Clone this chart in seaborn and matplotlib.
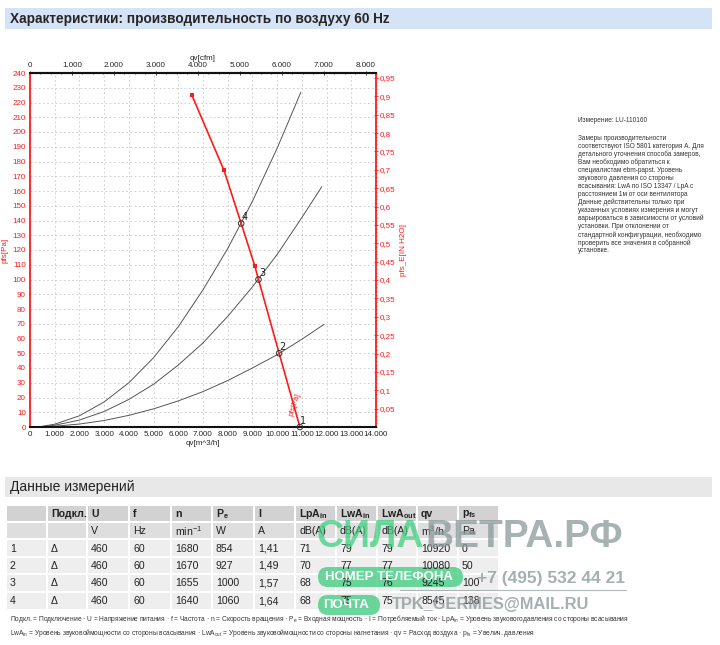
import matplotlib
matplotlib.use('Agg')
import matplotlib.pyplot as plt
from matplotlib.patches import Rectangle, FancyBboxPatch
from matplotlib.ticker import MultipleLocator, FixedLocator, FuncFormatter
import numpy as np
import pandas as pd
import seaborn as sns

sns.set_style('white')
SANS = ['Liberation Sans', 'DejaVu Sans']
plt.rcParams['font.family'] = SANS
plt.rcParams['mathtext.default'] = 'regular'

# fan curve (pfs over qv), m3/h and Pa
fan_qv = [6550, 7850, 8545, 9100, 9245, 10080, 10920]
fan_pfs = [225, 174, 138, 109, 100, 50, 0]
fan_dot_qv = [6550, 7850, 9100]
fan_dot_pfs = [225, 174, 109]

# operating points
op_qv = [10920, 10080, 9245, 8545]
op_pfs = [0, 50, 100, 138]
op_labels = ['1', '2', '3', '4']

# system curves through operating points 4, 3, 2
sys4_qv = [500, 1000, 2000, 3000, 4000, 5000, 6000, 7000, 8000, 9000, 10000, 10960]
sys4_p = [0.5, 1.9, 7.6, 17, 30, 47, 68, 93, 121, 153, 189, 227]
sys3_qv = [500, 1000, 2000, 3000, 4000, 5000, 6000, 7000, 8000, 9000, 10000, 11000, 11810]
sys3_p = [0.3, 1.2, 4.7, 10.5, 18.7, 29, 42, 57, 75, 95, 117, 142, 163]
sys2_qv = [500, 1000, 2000, 3000, 4000, 5000, 6000, 7000, 8000, 9000, 10000, 11000, 11900]
sys2_p = [0.1, 0.5, 2.0, 4.4, 7.9, 12.3, 17.7, 24, 31.5, 40, 49, 59.5, 69.6]

# table
tbl_head = ['', 'Подкл.', 'U', 'f', 'n', 'P$_e$', 'I', 'LpA$_{in}$', 'LwA$_{in}$', 'LwA$_{out}$', 'qv', 'p$_{fs}$']
tbl_units = ['', '', 'V', 'Hz', 'min$^{-1}$', 'W', 'A', 'dB(A)', 'dB(A)', 'dB(A)', 'm$^3$/h', 'Pa']
tbl_rows = [
    ['1', 'Δ', '460', '60', '1680', '854', '1,41', '71', '79', '79', '10920', '0'],
    ['2', 'Δ', '460', '60', '1670', '927', '1,49', '70', '77', '77', '10080', '50'],
    ['3', 'Δ', '460', '60', '1655', '1000', '1,57', '68', '75', '76', '9245', '100'],
    ['4', 'Δ', '460', '60', '1640', '1060', '1,64', '68', '75', '75', '8545', '138'],
]

note_lines = [
    'Замеры производительности',
    'соответствуют ISO 5801 категория А. Для',
    'детального уточнения способа замеров,',
    'Вам необходимо обратиться к',
    'специалистам ebm-papst. Уровень',
    'звукового давления со стороны',
    'всасывания: LwA по ISO 13347 / LpA с',
    'расстоянием 1м от оси вентилятора',
    'Данные действительны только при',
    'указанных условиях измерения и могут',
    'варьироваться в зависимости от условий',
    'установки. При отклонении от',
    'стандартной конфигурации, необходимо',
    'проверить все значения в собранной',
    'установке.',
]

foot1 = ('Подкл. = Подключение · U = Напряжение питания · f = Частота · n = Скорость вращения · '
         'P$_e$ = Входная мощность · I = Потребляемый ток · LpA$_{in}$ = Уровень звуковогодавления со стороны всасывания')
foot2 = ('LwA$_{in}$ = Уровень звуковоймощности со стороны всасывания · LwA$_{out}$ = Уровень звуковоймощности '
         'со стороны нагнетания · qv = Расход воздуха · p$_{fs}$ = Увелич. давления')

W, H = 720, 645
fig = plt.figure(figsize=(W / 100, H / 100), dpi=100)

# page overlay in pixel coords
ov = fig.add_axes([0, 0, 1, 1], zorder=0)
ov.set_xlim(0, W)
ov.set_ylim(H, 0)
ov.axis('off')

ov.add_patch(Rectangle((5, 8), 707, 21, color='#d5e3f6', lw=0))
ov.text(10, 18.5, 'Характеристики: производительность по воздуху 60 Hz',
        fontsize=9.8, fontweight='bold', va='center', ha='left')

ov.add_patch(Rectangle((5, 477), 707, 20, color='#e8e8e8', lw=0))
ov.text(10, 487.5, 'Данные измерений', fontsize=10, va='center', ha='left', color='#222222')

ov.text(578, 120, 'Измерение: LU-110160', fontsize=4.7, va='center', color='#333333')
for i, line in enumerate(note_lines):
    ov.text(578, 138 + i * 8.07, line, fontsize=4.7, va='center', color='#333333')

col_edges = [6, 47, 87, 129, 171, 212, 254, 295, 336, 377, 417, 458, 499]
row_edges = [505, 522, 539, 557, 574, 592, 610]
row_colors = ['#d2d2d2', '#dedede', '#eeeeee', '#eeeeee', '#eeeeee', '#eeeeee']
all_rows = [tbl_head, tbl_units] + tbl_rows
for r, cells in enumerate(all_rows):
    y0, y1 = row_edges[r], row_edges[r + 1]
    for c, txt in enumerate(cells):
        x0, x1 = col_edges[c], col_edges[c + 1]
        ov.add_patch(Rectangle((x0 + 0.75, y0 + 0.75), x1 - x0 - 1.5, y1 - y0 - 1.5,
                               color=row_colors[r], lw=0))
        if txt:
            ov.text(x0 + 4, (y0 + y1) / 2 + 0.5, txt, fontsize=7.6, va='center', ha='left',
                    fontweight='bold' if r == 0 else 'normal', color='#222222')

ov.text(10, 619, foot1, fontsize=4.8, va='center', color='#333333')
ov.text(10, 633, foot2, fontsize=4.8, va='center', color='#333333')

# watermark
ov.text(316, 537, 'СИЛА', fontsize=27, fontweight='bold', color='#3fcf7f', alpha=0.75,
        va='center', ha='left')
ov.text(425, 537, 'ВЕТРА.РФ', fontsize=28, fontweight='bold', color='#8a9898', alpha=0.75,
        va='center', ha='left')
ov.add_patch(FancyBboxPatch((318, 567), 145, 20, boxstyle='round,pad=0,rounding_size=10',
                            color='#52d08c', alpha=0.85, lw=0))
ov.text(325, 577.5, 'НОМЕР ТЕЛЕФОНА', fontsize=9.5, fontweight='bold', color='white', va='center')
ov.text(477, 578, '+7 (495) 532 44 21', fontsize=12.5, fontweight='bold', color='#8f9c9c', alpha=0.8,
        va='center')
ov.plot([400, 626], [590, 590], color='#9aa6a6', lw=0.8, alpha=0.8)
ov.add_patch(FancyBboxPatch((318, 595), 62, 20, boxstyle='round,pad=0,rounding_size=10',
                            color='#52d08c', alpha=0.85, lw=0))
ov.text(323, 605.5, 'ПОЧТА', fontsize=9.5, fontweight='bold', color='white', va='center')
ov.text(392, 604, 'TPK_GERMES@MAIL.RU', fontsize=11.8, fontweight='bold', color='#8f9c9c', alpha=0.8,
        va='center')

# chart
L, R, T, B = 30, 376, 73, 427
ax = fig.add_axes([L / W, 1 - B / H, (R - L) / W, (B - T) / H], zorder=2)
ax.set_facecolor('none')

sys_df = pd.concat([
    pd.DataFrame({'qv': sys4_qv, 'p': sys4_p, 'curve': '4'}),
    pd.DataFrame({'qv': sys3_qv, 'p': sys3_p, 'curve': '3'}),
    pd.DataFrame({'qv': sys2_qv, 'p': sys2_p, 'curve': '2'}),
])
sns.lineplot(data=sys_df, x='qv', y='p', units='curve', estimator=None, color='#555555',
             lw=0.7, ax=ax, legend=False)
fan_df = pd.DataFrame({'qv': fan_qv, 'p': fan_pfs})
sns.lineplot(data=fan_df, x='qv', y='p', color='#ff1a1a', lw=1.2, ax=ax, sort=False,
             estimator=None, legend=False)
sns.scatterplot(x=fan_dot_qv, y=fan_dot_pfs, marker='s', s=9, color='#ff1a1a', lw=0, ax=ax, zorder=4)
sns.scatterplot(x=op_qv, y=op_pfs, marker='o', s=16, facecolor='none', edgecolor='#333333',
                lw=0.7, ax=ax, zorder=5, clip_on=False)
for q, p, lab in zip(op_qv, op_pfs, op_labels):
    ax.text(q + 20, p + 1, lab, fontsize=7, color='#222222', ha='left', va='bottom',
            family=['DejaVu Sans'], clip_on=False)
ax.text(10720, 7, 'pfs[Pa]', fontsize=5.5, color='#ff1a1a', rotation=72, ha='center', va='bottom')

ax.set_xlim(0, 14000)
ax.set_ylim(0, 240)
ax.xaxis.set_major_locator(MultipleLocator(1000))
ax.xaxis.set_minor_locator(MultipleLocator(500))
ax.yaxis.set_major_locator(MultipleLocator(10))
ax.yaxis.set_minor_locator(MultipleLocator(2))
dotfmt = FuncFormatter(lambda v, _: f'{v:,.0f}'.replace(',', '.'))
ax.xaxis.set_major_formatter(dotfmt)
ax.grid(True, which='major', color='#c8c8c8', linestyle=(0, (2, 3)), lw=0.6)
ax.tick_params(axis='x', which='major', labelsize=5.8, length=3, width=0.6, color='#333333', pad=1.5,
               direction='inout')
ax.tick_params(axis='x', which='minor', length=1.5, width=0.5, color='#333333', direction='inout')
ax.tick_params(axis='y', which='major', labelsize=5.8, length=3, width=0.6, color='#ff1a1a',
               labelcolor='#ff1a1a', pad=1.5, direction='inout')
ax.tick_params(axis='y', which='minor', length=1.5, width=0.5, color='#ff1a1a', direction='inout')
ax.spines['left'].set_color('#ff1a1a')
ax.spines['left'].set_linewidth(1.3)
ax.spines['bottom'].set_color('#111111')
ax.spines['bottom'].set_linewidth(1.5)
ax.spines['top'].set_color('#111111')
ax.spines['top'].set_linewidth(1.5)
ax.spines['right'].set_visible(False)
ax.set_xlabel('qv[m^3/h]', fontsize=5.8, labelpad=1)
ax.set_ylabel('pfs[Pa]', fontsize=5.8, color='#ff1a1a', labelpad=3)

CFM = 1.699
top = ax.secondary_xaxis('top', functions=(lambda q: q / CFM, lambda c: c * CFM))
top.xaxis.set_major_locator(FixedLocator(np.arange(0, 8001, 1000)))
top.xaxis.set_minor_locator(MultipleLocator(250))
top.xaxis.set_major_formatter(dotfmt)
top.tick_params(which='major', labelsize=5.8, length=3, width=0.6, pad=1.5, direction='inout')
top.tick_params(which='minor', length=1.5, width=0.5, direction='inout')
top.spines['top'].set_linewidth(1.5)
top.set_xlabel('qv[cfm]', fontsize=5.8, labelpad=1)

INH2O = 249.09
right = ax.secondary_yaxis('right', functions=(lambda p: p / INH2O, lambda w: w * INH2O))
right.yaxis.set_major_locator(FixedLocator(np.round(np.arange(0.05, 0.951, 0.05), 2)))
right.yaxis.set_minor_locator(MultipleLocator(0.01))
right.yaxis.set_major_formatter(FuncFormatter(lambda v, _: f'{v:.2f}'.rstrip('0').replace('.', ',')))
right.tick_params(which='major', labelsize=5.8, length=3, width=0.6, color='#ff1a1a',
                  labelcolor='#ff1a1a', pad=1.5, direction='inout')
right.tick_params(which='minor', length=1.5, width=0.5, color='#ff1a1a', direction='inout')
right.spines['right'].set_color('#ff1a1a')
right.spines['right'].set_linewidth(1.3)
right.set_ylabel('pfs_E[IN H2O]', fontsize=5.8, color='#ff1a1a', labelpad=3)

fig.savefig('out.png', dpi=100, facecolor='white')
